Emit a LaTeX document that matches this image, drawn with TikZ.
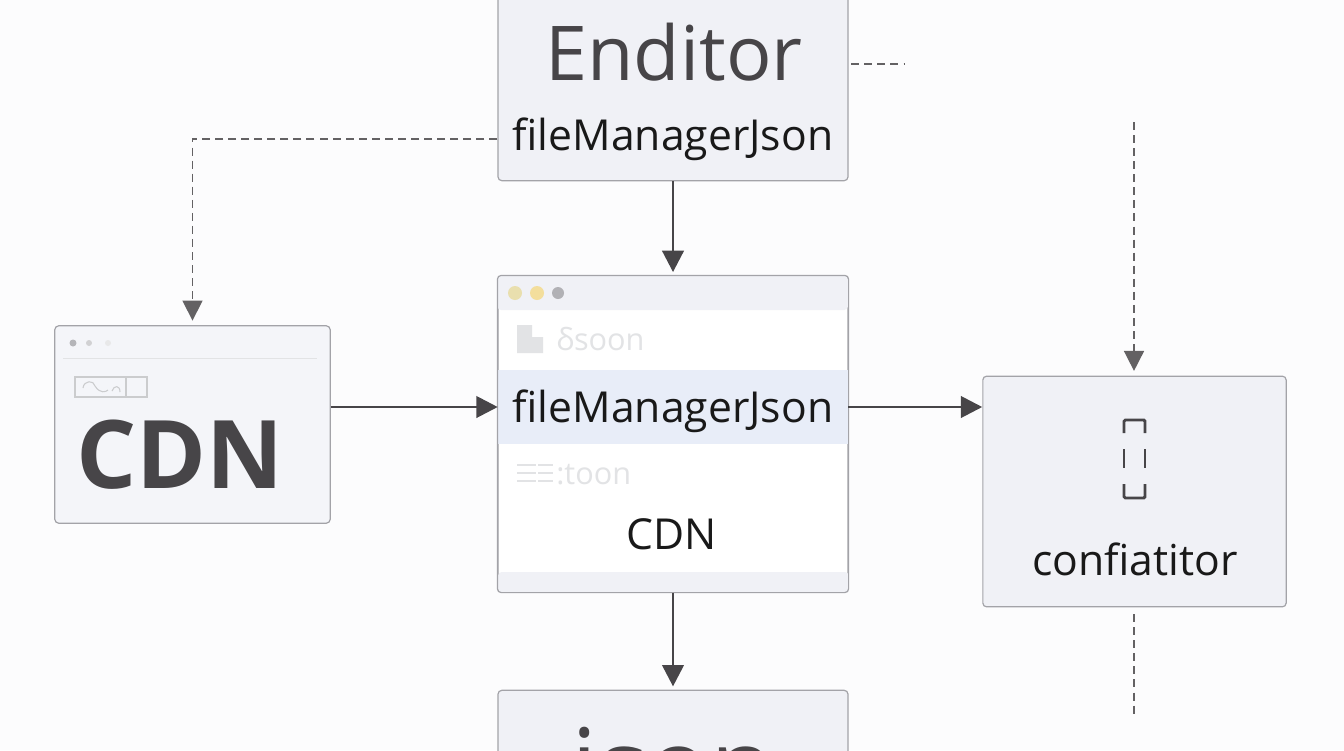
\documentclass[tikz,border=0pt]{standalone}
\usepackage{fontspec}
\setmainfont{Open Sans}
\usetikzlibrary{arrows.meta, positioning}
\definecolor{bgPage}{HTML}{FCFCFD}
\definecolor{boxFill}{HTML}{F0F1F6}
\definecolor{boxLine}{HTML}{A3A3A8}
\definecolor{inkDark}{HTML}{474548}
\definecolor{inkFaint}{HTML}{E2E3E5}
\definecolor{rowBlue}{HTML}{E8EDF8}
\definecolor{dotA}{HTML}{E9DFAE}
\definecolor{dotB}{HTML}{F3DE9C}
\tikzstyle{recNode} = [rectangle, inner sep=0pt, rounded corners=0.1cm, draw=boxLine, line width=0.9pt, fill=boxFill]
\tikzstyle{rowNode} = [rectangle, inner sep=0pt, minimum width=262.5pt]
\tikzstyle{eNode} = [inner sep=0pt, text=black!90, font=\fontsize{32}{34}\selectfont]
\tikzstyle{bigNode} = [inner sep=0pt, text=inkDark, font=\fontsize{56.7}{60}\selectfont]
\tikzstyle{fadeNode} = [inner sep=0pt, text=inkFaint, font=\fontsize{23}{25}\selectfont]
\tikzstyle{arrow} = [line width=2.2pt,-{Triangle[length=16pt,width=16pt]},draw=inkDark]
\tikzstyle{arrowD} = [line width=1.2pt,-{Triangle[length=15pt,width=15pt]},draw=inkDark!85,dash pattern=on 6pt off 3.8pt,shorten >=3.5pt]
\tikzstyle{lineD} = [line width=1.2pt,draw=inkDark!85,dash pattern=on 6pt off 3.8pt]
\begin{document}
\begin{tikzpicture}[x=0.75pt,y=-0.75pt]
    \useasboundingbox (0,0) rectangle (1344,750);
    \clip (0,0) rectangle (1344,750);
    \fill[bgPage] (0,0) rectangle (1344,750);

    % boxes
    \node (edit) [recNode, minimum width=262.5pt, minimum height=157pt] at (673,76) {};
    \node (win) [recNode, minimum width=262.5pt, minimum height=237pt, fill=white] at (673,434) {};
    \node (cdn) [recNode, minimum width=206.5pt, minimum height=148pt, fill=boxFill!70!white] at (192.5,424.5) {};
    \node (cfg) [recNode, minimum width=227.5pt, minimum height=173pt] at (1134.5,491.5) {};
    \node (ison) [recNode, minimum width=262.5pt, minimum height=100pt] at (673,757) {};

    % window rows
    \fill[boxFill, rounded corners=0.1cm] (win.north west) rectangle (848,310);
    \fill[boxFill, rounded corners=0.1cm] (498,572) rectangle (win.south east);
    \node (rowfm) [rowNode, fill=rowBlue, minimum height=55.5pt] at (673,407) {};
    \draw[boxLine, line width=0.9pt, rounded corners=0.1cm] (win.north west) rectangle (win.south east);
    \fill[dotA] (515,293) circle (7);
    \fill[dotB] (537,293) circle (7);
    \fill[boxLine!85!white] (558,293) circle (6);
    \fill[inkFaint] (517,325) -- (532,325) -- (532,337) -- (543,337) -- (543,353) -- (517,353) -- cycle;
    \foreach \ly in {465,473,481} {
        \draw[inkFaint, line width=1pt] (517,\ly) -- (536,\ly);
        \draw[inkFaint, line width=1pt] (538,\ly) -- (553,\ly);
    }

    % cdn window details
    \fill[boxLine!80!white] (73,343) circle (3.5);
    \fill[boxLine!50!white] (89,343) circle (3);
    \fill[boxLine!25!white] (108,343) circle (3);
    \draw[inkFaint, line width=0.7pt] (63,358) -- (317,358);
    \draw[inkFaint!90!black, line width=0.8pt] (75,377) rectangle (147,397) (126,377) -- (126,397);
    \draw[inkFaint!90!black, line width=0.8pt] (83,388) .. controls (84,380) and (94,380) .. (95,386) .. controls (100,394) and (106,392) .. (108,390) (112,391) .. controls (114,385) and (120,385) .. (120,392);

    % config icon
    \draw[inkDark, line width=2.2pt, rounded corners=1pt] (1124,433) -- (1124,420) -- (1145,420) -- (1145,433);
    \draw[inkDark, line width=2.2pt] (1124,449) -- (1124,468) (1145,449) -- (1145,468);
    \draw[inkDark, line width=2.2pt, rounded corners=1pt] (1124,484) -- (1124,498) -- (1145,498) -- (1145,484);

    % labels
    \node (editT) [bigNode, anchor=base] at (674,80) {Enditor};
    \node (editfm) [eNode, anchor=base] at (673,150) {fileManagerJson};
    \node (sson) [fadeNode, anchor=base west] at (556,350) {δsoon};
    \node (rowT) [eNode, anchor=base] at (673,422) {fileManagerJson};
    \node (toon) [fadeNode, anchor=base west] at (556,484) {:toon};
    \node (winC) [eNode, anchor=base] at (672,549) {CDN};
    \node (cdnT) [bigNode, anchor=base, font=\fontsize{71}{73}\selectfont\bfseries] at (180,488) {CDN};
    \node (cfgT) [eNode, anchor=base] at (1135,575) {confiatitor};
    \node (isonT) [bigNode, anchor=base, font=\fontsize{78}{80}\selectfont] at (673,803) {json};

    % free ends of the dashed lines
    \coordinate (dashR) at (905,64);
    \coordinate (dashTop) at (1134,122);
    \coordinate (dashBot) at (1134,715);

    \draw [arrow, shorten >=2.5pt] (edit) -- (win);
    \draw [arrow, shorten >=2.5pt] (win) -- (ison);
    \draw [arrow] (cdn.east |- rowfm) -- (rowfm.west);
    \draw [arrow] (rowfm.east) -- (cfg.west |- rowfm);
    \draw [arrowD] (edit.west |- editfm) -| (cdn);
    \draw [arrowD] (dashTop) -- (dashTop |- cfg.north);
    \draw [lineD] ([xshift=2pt]edit.east |- dashR) -- (dashR);
    \draw [lineD] ([yshift=-5pt]dashBot |- cfg.south) -- (dashBot);
\end{tikzpicture}
\end{document}
